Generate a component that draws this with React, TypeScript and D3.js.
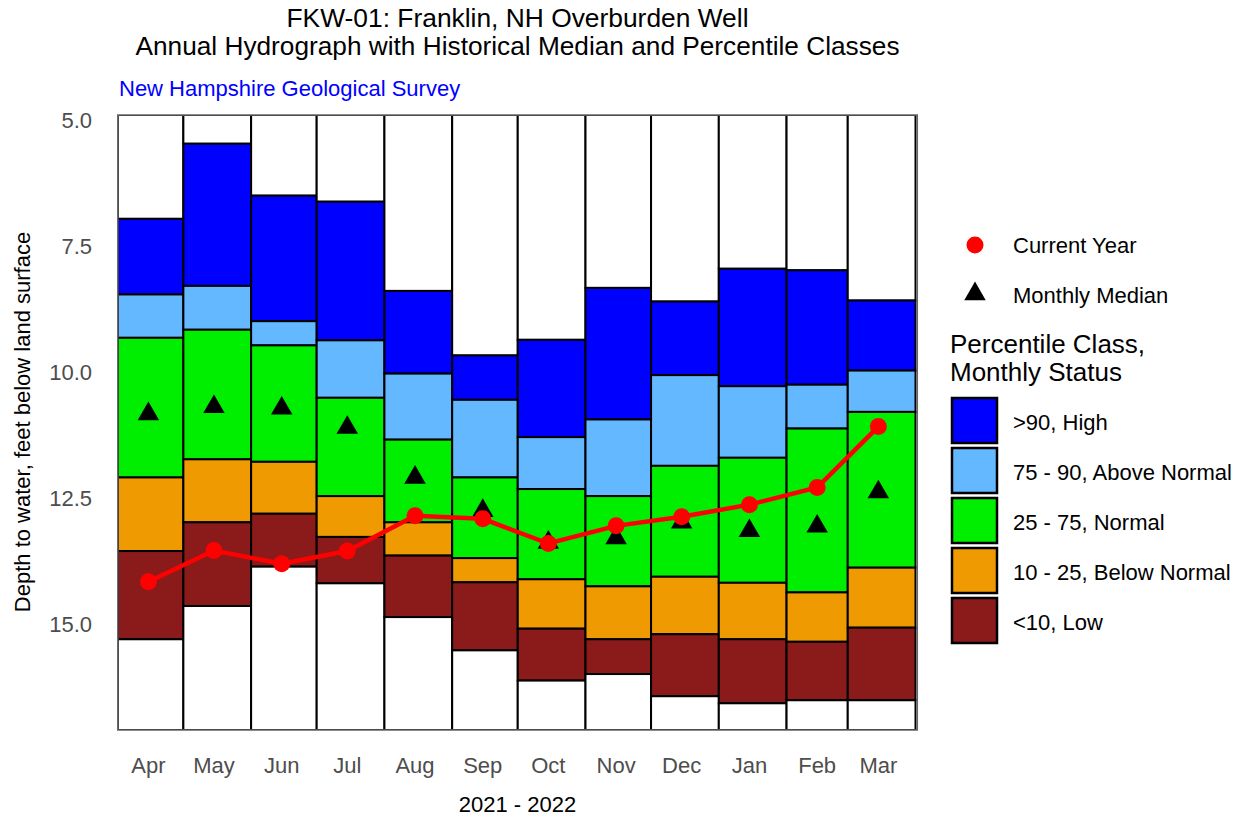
import React from "react";
import * as d3 from "d3";

const months = ["Apr", "May", "Jun", "Jul", "Aug", "Sep", "Oct", "Nov", "Dec", "Jan", "Feb", "Mar"];
const monthStarts = ["2021-04-01", "2021-05-01", "2021-06-01", "2021-07-01", "2021-08-01", "2021-09-01", "2021-10-01", "2021-11-01", "2021-12-01", "2022-01-01", "2022-02-01", "2022-03-01", "2022-04-01"];
const midMonth = ["2021-04-15", "2021-05-15", "2021-06-15", "2021-07-15", "2021-08-15", "2021-09-15", "2021-10-15", "2021-11-15", "2021-12-15", "2022-01-15", "2022-02-15", "2022-03-15"];

// depth to water (ft below land surface), class boundaries
const minDepth = [6.96, 5.47, 6.5, 6.62, 8.39, 9.67, 9.36, 8.33, 8.6, 7.95, 7.98, 8.58];
const p90 = [8.46, 8.29, 8.99, 9.37, 10.03, 10.55, 11.29, 10.94, 10.06, 10.28, 10.25, 9.97];
const p75 = [9.32, 9.16, 9.47, 10.51, 11.34, 12.09, 12.32, 12.46, 11.86, 11.7, 11.12, 10.79];
const p25 = [12.09, 11.73, 11.78, 12.46, 12.98, 13.69, 14.11, 14.25, 14.06, 14.18, 14.37, 13.88];
const p10 = [13.55, 12.98, 12.81, 13.27, 13.64, 14.17, 15.09, 15.3, 15.2, 15.3, 15.35, 15.07];
const maxDepth = [15.3, 14.64, 13.86, 14.19, 14.86, 15.52, 16.12, 15.99, 16.43, 16.57, 16.51, 16.51];
const median = [10.83, 10.69, 10.72, 11.1, 12.09, 12.75, 13.38, 13.29, 12.98, 13.15, 13.06, 12.38];
const current = [14.16, 13.54, 13.8, 13.55, 12.85, 12.91, 13.4, 13.05, 12.87, 12.63, 12.29, 11.08];

const yTicks = [5.0, 7.5, 10.0, 12.5, 15.0];
const classLabels = [">90, High", "75 - 90, Above Normal", "25 - 75, Normal", "10 - 25, Below Normal", "<10, Low"];
const classColors = ["#0000FF", "#63B8FF", "#00EE00", "#EE9A00", "#8B1A1A"];

const FONT = "'Liberation Sans', Arial, Helvetica, sans-serif";

export default function App() {
  const W = 1244, H = 816;
  const panel = { left: 117.8, right: 917.3, top: 115, bottom: 730 };
  const parse = (s: string) => {
    const [a, b, c] = s.split("-").map(Number);
    return new Date(Date.UTC(a, b - 1, c));
  };
  const x = d3.scaleUtc().domain([parse("2021-04-01"), parse("2022-04-01")]).range([117.8, 915.5]);
  const y = d3.scaleLinear().domain([4.9, 17.1]).range([panel.top, panel.bottom]);
  const yTop = y.domain()[0];
  const yBot = y.domain()[1];

  const line = d3.line<number>().x((_, i) => x(parse(midMonth[i]))).y((d) => y(d));
  const tri = d3.symbol().type(d3.symbolTriangle).size(200)() as string;

  const rects: JSX.Element[] = [];
  months.forEach((m, i) => {
    const x0 = x(parse(monthStarts[i]));
    const x1 = x(parse(monthStarts[i + 1]));
    const bounds = [yTop, minDepth[i], p90[i], p75[i], p25[i], p10[i], maxDepth[i], yBot];
    const fills = ["#FFFFFF", ...classColors, "#FFFFFF"];
    for (let k = 0; k < 7; k++) {
      const ya = y(bounds[k]);
      const yb = y(bounds[k + 1]);
      rects.push(
        <rect key={`${m}-${k}`} x={x0} y={ya} width={x1 - x0} height={yb - ya} fill={fills[k]} stroke="#000" strokeWidth={2} />
      );
    }
  });

  return (
    <svg width={W} height={H} style={{ position: "absolute", left: 0, top: 0, background: "#fff" }} fontFamily={FONT}>
      <defs>
        <clipPath id="panelClip">
          <rect x={panel.left} y={panel.top} width={panel.right - panel.left} height={panel.bottom - panel.top} />
        </clipPath>
      </defs>
      <rect x={0} y={0} width={W} height={H} fill="#fff" />
      {/* titles */}
      <text x={517.5} y={27} fontSize={25} textAnchor="middle" fill="#000" textLength={462} lengthAdjust="spacingAndGlyphs">FKW-01: Franklin, NH Overburden Well</text>
      <text x={517.5} y={55} fontSize={25} textAnchor="middle" fill="#000" textLength={764} lengthAdjust="spacingAndGlyphs">Annual Hydrograph with Historical Median and Percentile Classes</text>
      <text x={119} y={96} fontSize={22} fill="#0000FF">New Hampshire Geological Survey</text>

      <g clipPath="url(#panelClip)">
        {rects}
        {median.map((v, i) => (
          <path key={`med-${i}`} d={tri} transform={`translate(${x(parse(midMonth[i]))},${y(v)})`} fill="#000" />
        ))}
        <path d={line(current) || ""} fill="none" stroke="#FF0000" strokeWidth={4.5} />
        {current.map((v, i) => (
          <circle key={`cur-${i}`} cx={x(parse(midMonth[i]))} cy={y(v)} r={8.5} fill="#FF0000" />
        ))}
      </g>
      <rect x={panel.left} y={panel.top} width={panel.right - panel.left} height={panel.bottom - panel.top} fill="none" stroke="#666" strokeWidth={1.5} />

      {/* y axis */}
      {yTicks.map((t) => (
        <text key={`yt-${t}`} x={92} y={y(t)} dy="0.36em" fontSize={22} textAnchor="end" fill="#4D4D4D">{t.toFixed(1)}</text>
      ))}
      <text transform={`translate(30,422) rotate(-90)`} fontSize={22} textAnchor="middle" fill="#000">Depth to water, feet below land surface</text>

      {/* x axis */}
      {months.map((m, i) => (
        <text key={`xt-${m}`} x={x(parse(midMonth[i]))} y={773} fontSize={22} textAnchor="middle" fill="#4D4D4D">{m}</text>
      ))}
      <text x={517.5} y={812} fontSize={22} textAnchor="middle" fill="#000">2021 - 2022</text>

      {/* legend */}
      <circle cx={975} cy={245} r={8.5} fill="#FF0000" />
      <text x={1013} y={253} fontSize={22} fill="#000">Current Year</text>
      <path d={tri} transform="translate(975,294)" fill="#000" />
      <text x={1013} y={303} fontSize={22} fill="#000">Monthly Median</text>
      <text x={950} y={353} fontSize={26} fill="#000">Percentile Class,</text>
      <text x={950} y={381} fontSize={26} fill="#000">Monthly Status</text>
      {classLabels.map((lab, i) => (
        <g key={`lg-${i}`}>
          <rect x={952} y={398 + i * 50} width={45} height={45} fill={classColors[i]} stroke="#000" strokeWidth={2.5} />
          <text x={1013} y={430 + i * 50} fontSize={22} fill="#000">{lab}</text>
        </g>
      ))}
    </svg>
  );
}
